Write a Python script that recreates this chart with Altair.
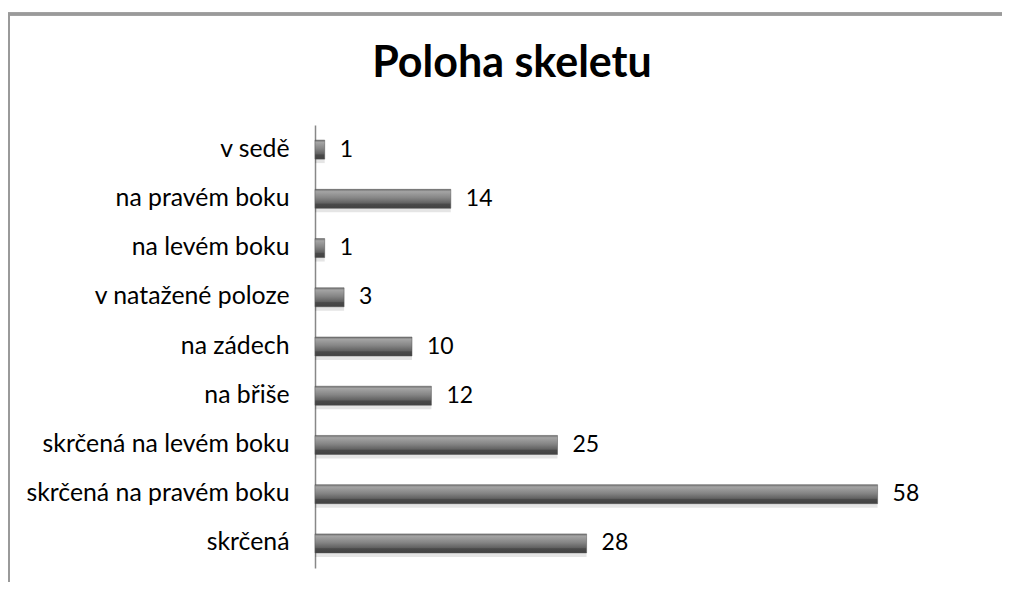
import altair as alt
import pandas as pd

categories = ["v sedě", "na pravém boku", "na levém boku", "v natažené poloze",
              "na zádech", "na břiše", "skrčená na levém boku",
              "skrčená na pravém boku", "skrčená"]
values = [1, 14, 1, 3, 10, 12, 25, 58, 28]
title_text = ["Poloha skeletu"]

df = pd.DataFrame({"cat": categories, "val": values})

FONT = "Lato"

grad = alt.LinearGradient(
    gradient="linear", x1=0, y1=0, x2=0, y2=1,
    stops=[
        alt.GradientStop(offset=0.0, color="#6e6e6e"),
        alt.GradientStop(offset=0.12, color="#a4a4a4"),
        alt.GradientStop(offset=0.45, color="#858585"),
        alt.GradientStop(offset=0.72, color="#626262"),
        alt.GradientStop(offset=0.78, color="#4a4a4a"),
        alt.GradientStop(offset=1.0, color="#424242"),
    ],
)

y_enc = alt.Y("cat:N", sort=categories, title=None,
              axis=alt.Axis(domain=True, domainColor="#888888", domainWidth=1.5,
                            ticks=False, grid=False, labelFontSize=24.8,
                            labelFont=FONT, labelColor="#000000",
                            labelPadding=26, labelLimit=400))
x_enc = alt.X("val:Q", scale=alt.Scale(domain=[0, 70], nice=False), axis=None)

base = alt.Chart(df)

shadow = base.mark_bar(color="#000000", opacity=0.10, size=19, yOffset=4).encode(x=x_enc, y=y_enc)
bars = base.mark_bar(color=grad, size=19, stroke="#555555", strokeWidth=0.5).encode(x=x_enc, y=y_enc)
labels = base.mark_text(align="left", baseline="middle", dx=15, fontSize=23,
                        font=FONT, color="#000000").encode(x=x_enc, y=y_enc, text="val:Q")

title = alt.Chart(pd.DataFrame({"t": title_text})).mark_text(
    align="center", baseline="alphabetic", fontSize=43, fontWeight="bold",
    font=FONT, color="#000000").encode(x=alt.value(197), y=alt.value(-48), text="t:N")

top_border = alt.Chart(df).mark_rule(color="#9a9a9a", strokeWidth=2.5).encode(
    x=alt.value(-307), x2=alt.value(1000), y=alt.value(-111))
left_border = alt.Chart(df).mark_rule(color="#9a9a9a", strokeWidth=2.5).encode(
    x=alt.value(-306.5), y=alt.value(-112), y2=alt.value(500))

chart = alt.layer(shadow, bars, labels, title, top_border, left_border).properties(
    width=679, height=443,
    autosize=alt.AutoSizeParams(type="none"),
    padding={"left": 307, "top": 117, "right": 8, "bottom": 14},
    background="white",
).configure_view(strokeWidth=0, stroke=None)

chart.save("out.html", embed_options={"renderer": "svg", "actions": False})
